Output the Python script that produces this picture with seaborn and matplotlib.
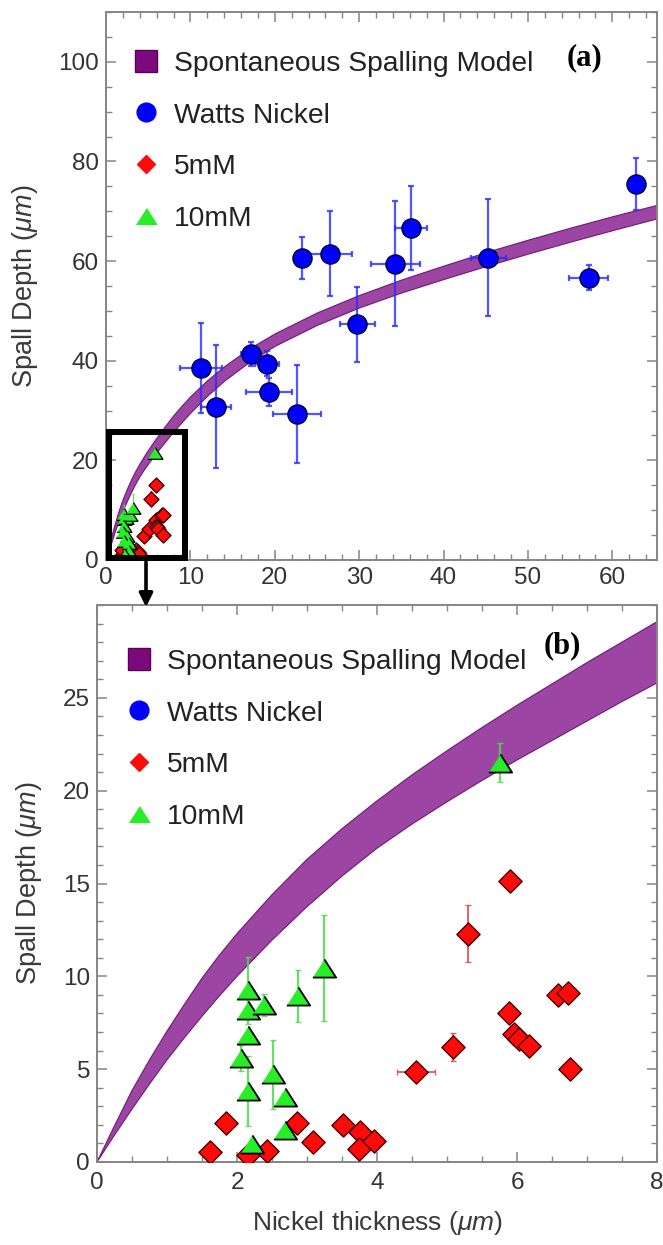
import numpy as np
import pandas as pd
import matplotlib
matplotlib.use("Agg")
import matplotlib.pyplot as plt
import seaborn as sns
from matplotlib.patches import Patch, Rectangle, FancyArrowPatch
from matplotlib.lines import Line2D
from matplotlib.ticker import MultipleLocator

# ---------------- data ----------------
# Spontaneous spalling model band (upper / lower edge)
model_x = [0, 0.25, 0.5, 0.75, 1, 1.25, 1.5, 1.75, 2, 2.5, 3, 3.5, 4, 4.5, 5, 5.5, 6,
           6.5, 7, 7.5, 8, 9, 10, 12, 14, 17, 20, 25, 30, 35, 40, 45, 50, 55, 60, 66]
model_upper = [0, 1.95, 3.85, 5.5, 7.05, 8.5, 9.9, 11.15, 12.3, 14.4, 16.3, 17.95,
               19.45, 20.85, 22.15, 23.4, 24.6, 25.75, 26.9, 28.0, 29.1, 31.05, 32.9,
               36.1, 38.9, 42.5, 45.5, 49.7, 53.2, 56.3, 59.1, 61.8, 64.3, 66.7, 69.0, 71.6]
model_lower = [0, 1.45, 2.85, 4.2, 5.5, 6.7, 7.85, 8.95, 10.0, 11.95, 13.75, 15.4,
               16.9, 18.2, 19.4, 20.55, 21.65, 22.7, 23.75, 24.8, 25.8, 27.75, 29.6,
               33.0, 36.0, 39.8, 43.0, 47.2, 50.7, 53.7, 56.4, 59.0, 61.5, 63.9, 66.2, 68.9]

# Watts nickel
watts_x = [11.3, 13.0, 17.2, 19.1, 19.3, 22.6, 23.2, 26.5, 29.8, 34.3, 36.2, 45.3, 57.2, 62.8]
watts_y = [38.5, 30.8, 41.4, 39.4, 33.8, 29.3, 60.7, 61.5, 47.3, 59.5, 66.7, 60.7, 56.7, 75.5]
watts_yerr = [9.0, 12.3, 2.4, 2.5, 2.8, 9.8, 4.2, 8.6, 7.5, 12.6, 8.4, 11.8, 2.6, 5.2]
watts_xerr = [2.5, 1.8, 1.2, 1.4, 2.7, 2.85, 0.0, 2.7, 2.1, 2.9, 1.9, 2.05, 2.3, 0.0]

# 5mM
mm5_x = [1.62, 1.84, 2.15, 2.43, 2.86, 3.08, 3.51, 3.76, 3.74, 3.95, 4.56, 5.09, 5.30,
         5.90, 5.88, 5.95, 6.03, 6.17, 6.58, 6.73, 6.75]
mm5_y = [0.54, 2.10, 0.36, 0.60, 2.10, 1.08, 2.00, 1.60, 0.70, 1.15, 4.85, 6.20, 12.30,
         15.15, 8.03, 6.90, 6.60, 6.25, 9.00, 9.10, 5.03]
mm5_yerr = [0, 0, 0, 0, 0, 0, 0, 0, 0, 0, 0, 0.75, 1.55,
            0, 0, 0, 0, 0, 0, 0, 0]
mm5_xerr = [0, 0, 0, 0, 0, 0, 0, 0, 0, 0, 0.27, 0, 0,
            0, 0, 0, 0, 0, 0, 0, 0]

# 10mM
mm10_x = [2.16, 2.16, 2.38, 2.87, 3.24, 2.16, 2.06, 2.51, 2.16, 2.69, 2.69, 2.22, 5.75]
mm10_y = [9.25, 8.18, 8.45, 8.96, 10.45, 6.83, 5.60, 4.73, 3.83, 3.50, 1.71, 0.99, 21.5]
mm10_yerr = [1.8, 0, 0.6, 1.4, 2.85, 0, 0.7, 1.86, 1.9, 0, 0, 0, 1.05]

labels = ["Spontaneous Spalling Model", "Watts Nickel", "5mM", "10mM"]

# ---------------- style ----------------
sns.set_theme(style="ticks")
plt.rcParams["font.family"] = ["Liberation Sans", "DejaVu Sans"]
plt.rcParams["mathtext.fontset"] = "custom"
plt.rcParams["mathtext.it"] = "Liberation Sans:italic"
plt.rcParams["mathtext.rm"] = "Liberation Sans"

BAND = "#9c45a3"
BAND_EDGE = "#6e1a76"
BLUE = "#0000ff"
RED = "#ff0a0a"
GREEN = "#27ee27"
TXT = "#333333"
SPINE = "#858585"
TRI = [(-1, -0.78), (1, -0.78), (0, 0.78)]
LEG_FS = 20.3

fig = plt.figure(figsize=(6.63, 12.45), dpi=100)
ax1 = fig.add_axes([106 / 663, 1 - 560 / 1245, 551 / 663, 548 / 1245])
ax2 = fig.add_axes([97 / 663, 1 - 1162 / 1245, 560 / 663, 557 / 1245])

watts = pd.DataFrame({"x": watts_x, "y": watts_y})
d5 = pd.DataFrame({"x": mm5_x, "y": mm5_y})
d10 = pd.DataFrame({"x": mm10_x, "y": mm10_y})


def draw(ax, big):
    ax.fill_between(model_x, model_lower, model_upper, facecolor=BAND,
                    edgecolor=BAND_EDGE, linewidth=0.8, zorder=1)
    # Watts nickel
    ax.errorbar(watts_x, watts_y, yerr=watts_yerr, xerr=watts_xerr, fmt="none",
                ecolor="#2b2bff", elinewidth=1.6, capsize=2.5, capthick=1.6,
                alpha=0.8, zorder=3)
    sns.scatterplot(data=watts, x="x", y="y", ax=ax, marker="o", s=190,
                    color=BLUE, edgecolor="#000030", linewidth=1.0,
                    zorder=4, legend=False)
    # 5mM
    ax.errorbar(mm5_x, mm5_y, yerr=mm5_yerr, xerr=mm5_xerr, fmt="none",
                ecolor="#d84a4a", elinewidth=1.4 if big else 1.0,
                capsize=2 if big else 1, alpha=0.85, zorder=4.5)
    sns.scatterplot(data=d5, x="x", y="y", ax=ax, marker="D",
                    s=140 if big else 58, color=RED, edgecolor="#4a0000",
                    linewidth=1.0, zorder=5, legend=False)
    # 10mM
    ax.errorbar(mm10_x, mm10_y, yerr=mm10_yerr, fmt="none",
                ecolor="#4fd84f", elinewidth=1.6 if big else 1.0,
                capsize=2 if big else 1, alpha=0.85, zorder=5.5)
    sns.scatterplot(data=d10, x="x", y="y", ax=ax, marker=TRI,
                    s=280 if big else 115, color=GREEN, edgecolor="black",
                    linewidth=1.3 if big else 0.9, zorder=6, legend=False)

    for sp in ax.spines.values():
        sp.set_color(SPINE)
        sp.set_linewidth(1.4)
    ax.tick_params(which="both", direction="in", top=True, right=True,
                   color=SPINE, labelcolor=TXT, labelsize=17.5, pad=5)
    ax.tick_params(which="major", length=7, width=1.1)
    ax.tick_params(which="minor", length=4, width=1.0)
    ax.set_facecolor("white")

    handles = [
        Patch(facecolor="#7d0a7d", edgecolor="#5a005a", label=labels[0]),
        Line2D([], [], ls="none", marker="o", ms=13.5, mfc=BLUE, mec=BLUE, label=labels[1]),
        Line2D([], [], ls="none", marker="D", ms=9, mfc=RED, mec=RED, label=labels[2]),
        Line2D([], [], ls="none", marker=TRI, ms=14.5, mfc=GREEN, mec=GREEN, label=labels[3]),
    ]
    return handles


legend_kw = dict(loc="upper left", frameon=False, fontsize=LEG_FS, handlelength=0.8,
                 handleheight=0.8, handletextpad=0.6, labelspacing=0.89, borderpad=0,
                 borderaxespad=0, labelcolor="#222222")

# ---------------- panel (a) ----------------
h = draw(ax1, big=False)
ax1.set_xlim(0, 65.3)
ax1.set_ylim(0, 110)
ax1.xaxis.set_major_locator(MultipleLocator(10))
ax1.xaxis.set_minor_locator(MultipleLocator(2))
ax1.yaxis.set_major_locator(MultipleLocator(20))
ax1.yaxis.set_minor_locator(MultipleLocator(5))
ax1.set_xlabel("")
ax1.set_ylabel(r"Spall Depth ($\mu m$)", fontsize=19.5, color="#3a3a3a")
ax1.yaxis.set_label_coords(-0.12, 0.5)
ax1.legend(handles=h, bbox_to_anchor=(0.052, 0.930), **legend_kw)
ax1.text(0.869, 0.916, "(a)", transform=ax1.transAxes, ha="center", va="center",
         fontsize=22, fontweight="bold", family="Liberation Serif", color="black")

# zoom box and arrow
BOX_X0, BOX_Y0, BOX_W, BOX_H = 0.3, 0.4, 9.05, 25.2
ax1.add_patch(Rectangle((BOX_X0, BOX_Y0), BOX_W, BOX_H, fill=False,
                        edgecolor="black", linewidth=4.3, zorder=8, clip_on=False))
fig.patches.append(FancyArrowPatch(
    (146 / 663, 1 - 562 / 1245), (146 / 663, 1 - 607 / 1245),
    transform=fig.transFigure, arrowstyle="-|>", mutation_scale=20,
    color="black", linewidth=2.6, shrinkA=0, shrinkB=0, zorder=10))

# ---------------- panel (b) ----------------
h = draw(ax2, big=True)
ax2.set_xlim(0, 8)
ax2.set_ylim(0, 30)
ax2.xaxis.set_major_locator(MultipleLocator(2))
ax2.xaxis.set_minor_locator(MultipleLocator(0.5))
ax2.yaxis.set_minor_locator(MultipleLocator(1))
ax2.set_yticks([0, 5, 10, 15, 20, 25])
ax2.tick_params(axis="x", which="both", pad=7)
ax2.set_xlabel(r"Nickel thickness ($\mu m$)", fontsize=19, color="#3a3a3a")
ax2.set_ylabel(r"Spall Depth ($\mu m$)", fontsize=19.5, color="#3a3a3a")
ax2.yaxis.set_label_coords(-0.095, 0.5)
ax2.xaxis.set_label_coords(0.5, -0.085)
ax2.legend(handles=h, bbox_to_anchor=(0.055, 0.922), **legend_kw)
ax2.text(0.831, 0.926, "(b)", transform=ax2.transAxes, ha="center", va="center",
         fontsize=22, fontweight="bold", family="Liberation Serif", color="black")

fig.savefig("out.png", dpi=100, facecolor="white")
